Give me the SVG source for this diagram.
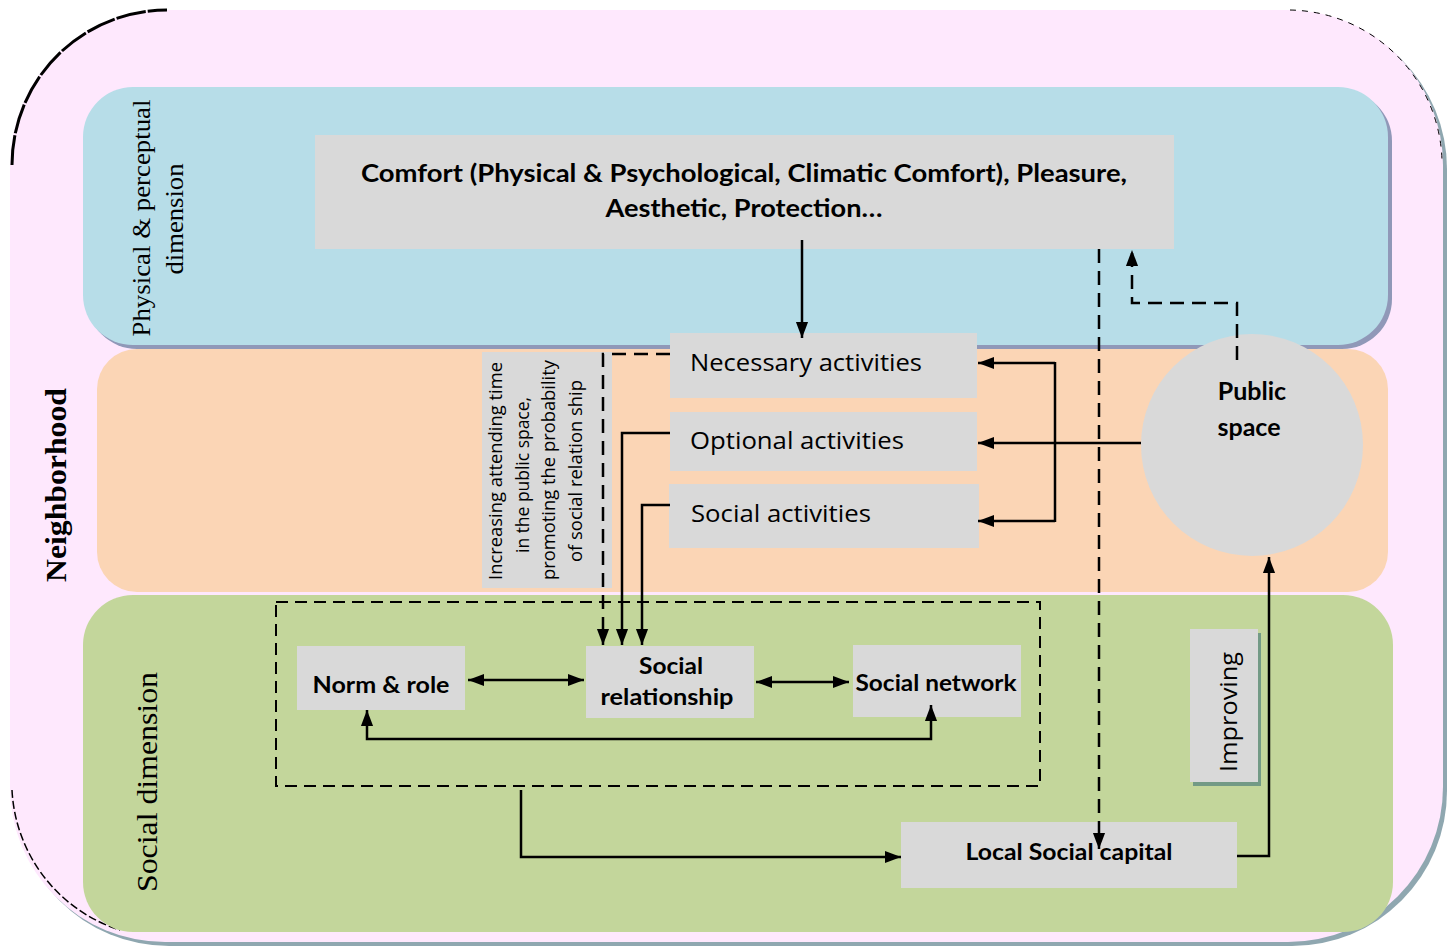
<svg xmlns="http://www.w3.org/2000/svg" width="1447" height="948" viewBox="0 0 1447 948">
<defs>
<marker id="ah" viewBox="0 0 10 10" refX="10" refY="5" markerWidth="16" markerHeight="16" markerUnits="userSpaceOnUse" orient="auto-start-reverse"><path d="M0,1.2 L10,5 L0,8.8 z" fill="#000"/></marker>
</defs>
<style>
.box{fill:#D9D9D9}
.ln{fill:none;stroke:#000;stroke-width:2.5}
.dash{fill:none;stroke:#000;stroke-width:2.5;stroke-dasharray:14 8}
.bold{font-family:Lato,"Open Sans","Liberation Sans",sans-serif;font-weight:bold;fill:#000}
.reg{font-family:"Open Sans","Liberation Sans",sans-serif;fill:#000}
.serif{font-family:"Liberation Serif","Times New Roman",serif;fill:#000}
</style>
<rect width="1447" height="948" fill="#fff"/>
<g id="frame">
<rect x="14" y="14" width="1433" height="932" rx="155" fill="#8FA7B0"/>
<rect x="10" y="10" width="1433" height="932" rx="155" fill="#FEE8FD"/>
<path d="M12,165 A155,155 0 0 1 167,10" fill="none" stroke="#000" stroke-width="3" stroke-dasharray="30 2"/>
<path d="M1290,10 A155,155 0 0 1 1442,160" fill="none" stroke="#000" stroke-width="1" stroke-dasharray="6 6"/>
<path d="M12,790 A155,155 0 0 0 120,930" fill="none" stroke="#000" stroke-width="1.5" stroke-dasharray="8 3"/>
</g>
<g id="band-physical">
<rect x="87" y="91" width="1305" height="258" rx="50" fill="#9098B8"/>
<rect x="83" y="87" width="1305" height="258" rx="50" fill="#B7DDE8"/>
</g>
<g id="band-activity">
<rect x="97" y="349" width="1291" height="243" rx="40" fill="#FBD5B5"/>
</g>
<g id="band-social">
<rect x="83" y="595" width="1310" height="337" rx="50" fill="#C3D69B"/>
</g>
<g id="labels">
<text class="serif" font-size="26" text-anchor="middle" transform="rotate(-90 150 218)" x="150" y="218" textLength="237" lengthAdjust="spacingAndGlyphs">Physical &amp; perceptual</text>
<text class="serif" font-size="26" text-anchor="middle" transform="rotate(-90 183 219)" x="183" y="219" textLength="111" lengthAdjust="spacingAndGlyphs">dimension</text>
<text class="serif" font-size="29" font-weight="bold" text-anchor="middle" transform="rotate(-90 66 485)" x="66" y="485" textLength="194" lengthAdjust="spacingAndGlyphs">Neighborhood</text>
<text class="serif" font-size="29" text-anchor="middle" transform="rotate(-90 157 782)" x="157" y="782" textLength="220" lengthAdjust="spacingAndGlyphs">Social dimension</text>
</g>
<g id="comfort">
<rect class="box" x="315" y="135" width="859" height="114"/>
<text class="bold" font-size="24" text-anchor="middle" x="744" y="182" textLength="766" lengthAdjust="spacingAndGlyphs">Comfort (Physical &amp; Psychological, Climatic Comfort), Pleasure,</text>
<text class="bold" font-size="24" text-anchor="middle" x="744" y="217" textLength="277" lengthAdjust="spacingAndGlyphs">Aesthetic, Protection…</text>
</g>
<g id="necessary">
<rect class="box" x="670" y="333" width="307" height="65"/>
<text class="reg" font-size="23" x="690" y="371" textLength="232" lengthAdjust="spacingAndGlyphs">Necessary activities</text>
</g>
<g id="optional">
<rect class="box" x="670" y="412" width="307" height="59"/>
<text class="reg" font-size="23" x="690" y="449" textLength="214" lengthAdjust="spacingAndGlyphs">Optional activities</text>
</g>
<g id="social-activities">
<rect class="box" x="669" y="484" width="310" height="64"/>
<text class="reg" font-size="23" x="691" y="522" textLength="180" lengthAdjust="spacingAndGlyphs">Social activities</text>
</g>
<g id="note">
<rect class="box" x="482" y="352" width="130" height="236"/>
<g class="reg" font-size="18" text-anchor="middle">
<text transform="rotate(-90 502 471)" x="502" y="471" textLength="218" lengthAdjust="spacingAndGlyphs">Increasing attending time</text>
<text transform="rotate(-90 529 475)" x="529" y="475" textLength="156" lengthAdjust="spacingAndGlyphs">in the public space,</text>
<text transform="rotate(-90 555 470)" x="555" y="470" textLength="220" lengthAdjust="spacingAndGlyphs">promoting the probability</text>
<text transform="rotate(-90 582 471)" x="582" y="471" textLength="182" lengthAdjust="spacingAndGlyphs">of social relation ship</text>
</g>
</g>
<g id="public-space">
<circle cx="1252" cy="445" r="111" fill="#D9D9D9"/>
<text class="bold" font-size="25" text-anchor="middle" x="1252" y="400">Public</text>
<text class="bold" font-size="25" text-anchor="middle" x="1249" y="436">space</text>
</g>
<g id="group-box">
<rect x="276" y="602" width="764" height="184" fill="none" stroke="#000" stroke-width="2" stroke-dasharray="12 7"/>
</g>
<g id="norm">
<rect class="box" x="297" y="646" width="168" height="64"/>
<text class="bold" font-size="23" text-anchor="middle" x="381" y="693" textLength="137" lengthAdjust="spacingAndGlyphs">Norm &amp; role</text>
</g>
<g id="social-relationship">
<rect class="box" x="586" y="646" width="168" height="72"/>
<text class="bold" font-size="23" text-anchor="middle" x="671" y="674" textLength="64" lengthAdjust="spacingAndGlyphs">Social</text>
<text class="bold" font-size="23" text-anchor="middle" x="667" y="705" textLength="133" lengthAdjust="spacingAndGlyphs">relationship</text>
</g>
<g id="social-network">
<rect class="box" x="853" y="645" width="168" height="72"/>
<text class="bold" font-size="23" text-anchor="middle" x="936" y="691" textLength="161" lengthAdjust="spacingAndGlyphs">Social network</text>
</g>
<g id="improving">
<rect x="1193" y="633" width="68" height="153" fill="#739A86"/>
<rect class="box" x="1190" y="629" width="68" height="153"/>
<text class="reg" font-size="24" text-anchor="middle" transform="rotate(-90 1237 712)" x="1237" y="712" textLength="120" lengthAdjust="spacingAndGlyphs">Improving</text>
</g>
<g id="local-capital">
<rect class="box" x="901" y="822" width="336" height="66"/>
<text class="bold" font-size="23" text-anchor="middle" x="1069" y="860" textLength="207" lengthAdjust="spacingAndGlyphs">Local Social capital</text>
</g>
<g id="connectors">
<path class="ln" d="M802,240 V338" marker-end="url(#ah)"/>
<path class="dash" d="M1237,360 V303 H1132 V250" marker-end="url(#ah)"/>
<path class="dash" d="M1099,249 V849" marker-end="url(#ah)"/>
<path class="ln" d="M1141,443 H978" marker-end="url(#ah)"/>
<path class="ln" d="M1055,363 H978" marker-end="url(#ah)"/>
<path class="ln" d="M1055,521 H978" marker-end="url(#ah)"/>
<path class="ln" d="M1055,362 V522"/>
<path class="dash" d="M670,354 H603 V645" marker-end="url(#ah)"/>
<path class="ln" d="M670,433 H622 V645" marker-end="url(#ah)"/>
<path class="ln" d="M670,505 H642 V645" marker-end="url(#ah)"/>
<path class="ln" d="M468,680 H584" marker-start="url(#ah)" marker-end="url(#ah)"/>
<path class="ln" d="M756,682 H849" marker-start="url(#ah)" marker-end="url(#ah)"/>
<path class="ln" d="M367,710 V739 H931 V705" marker-start="url(#ah)" marker-end="url(#ah)"/>
<path class="ln" d="M521,790 V857 H901" marker-end="url(#ah)"/>
<path class="ln" d="M1237,856 H1269 V557" marker-end="url(#ah)"/>
</g>
</svg>
